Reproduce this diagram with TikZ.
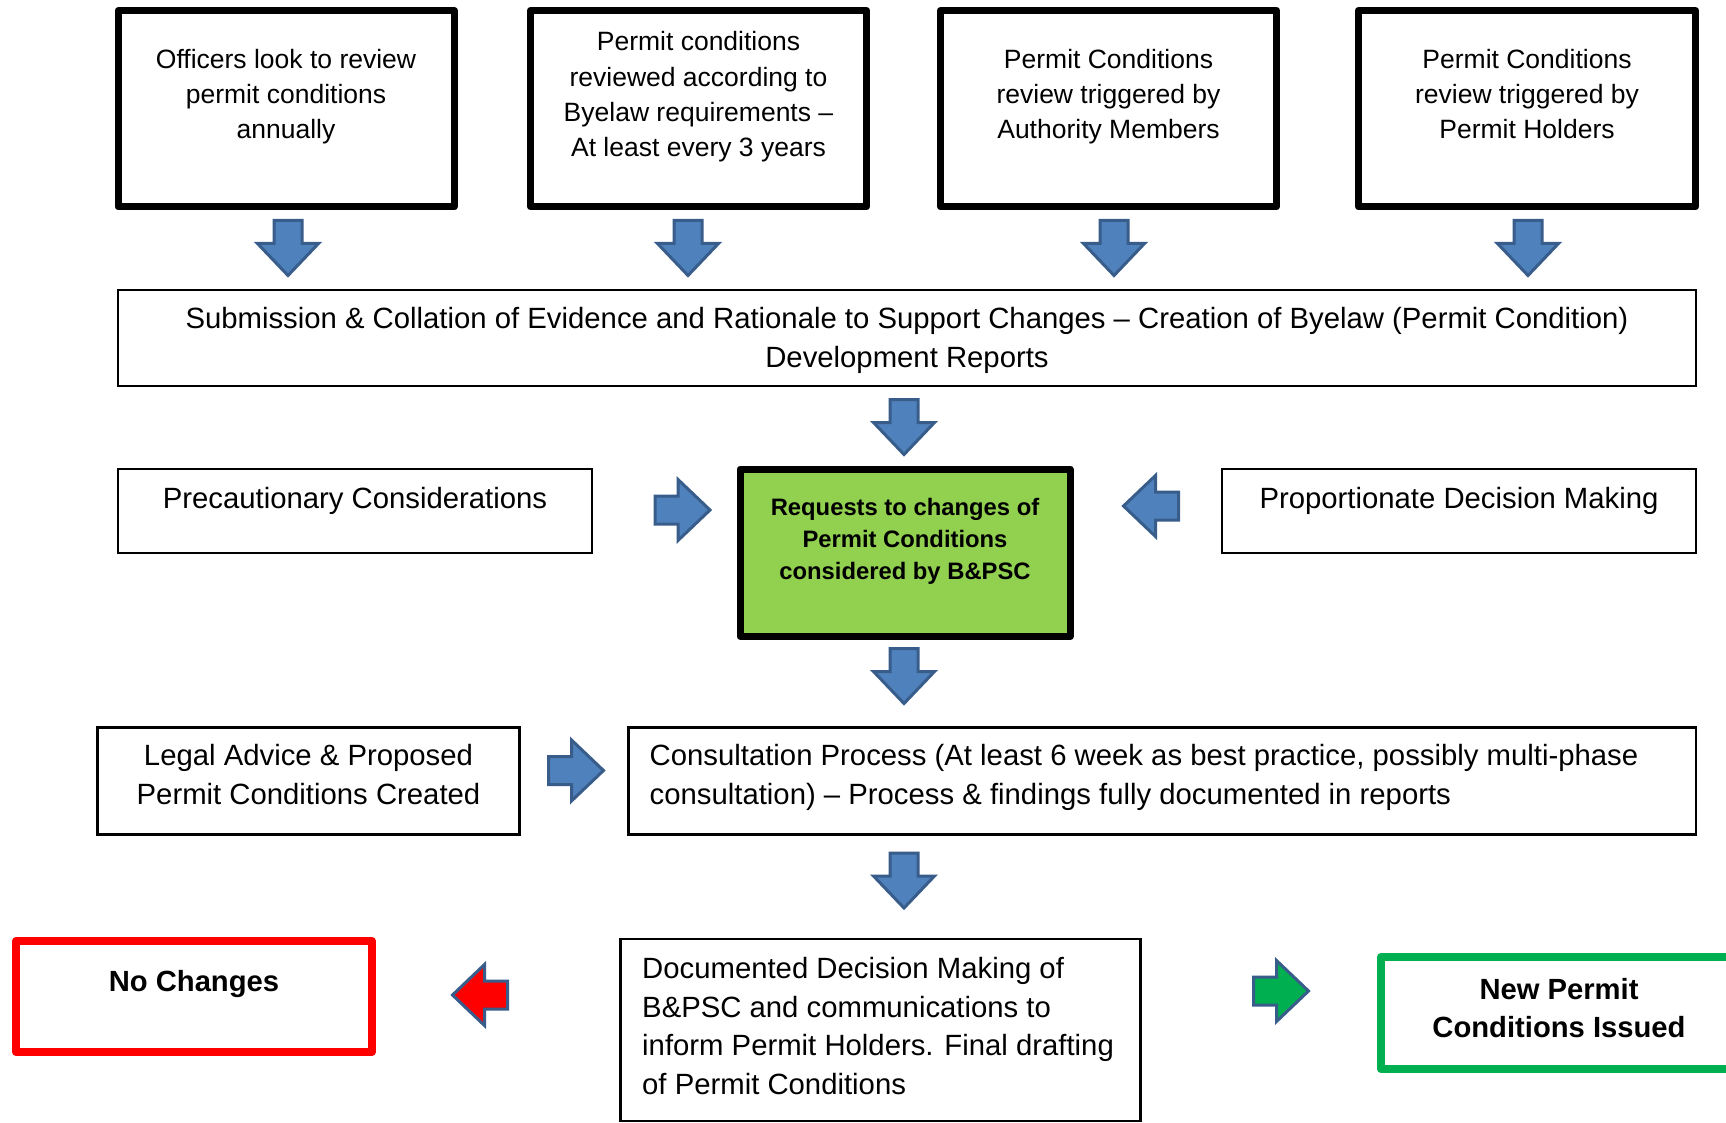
\documentclass[tikz,border=0pt]{standalone}
\usepackage{fontspec}
\setmainfont{Liberation Sans}
\usetikzlibrary{calc}
\definecolor{abfill}{HTML}{4F81BD}
\definecolor{abdraw}{HTML}{385D8A}
\definecolor{gfill}{HTML}{92D050}
\definecolor{nred}{HTML}{FF0000}
\definecolor{ngreen}{HTML}{00B050}
\tikzset{
  thickbox/.style={draw=black, line width=7pt, line join=round, rectangle, inner sep=0pt, outer sep=0pt},
  thinbox/.style={draw=black, line width=2.5pt, rectangle, inner sep=0pt, outer sep=0pt},
  txtA/.style={align=center, inner sep=0pt, font=\fontsize{26.5}{35.2}\selectfont},
  txtB/.style={align=center, inner sep=0pt, font=\fontsize{29.3}{39}\selectfont},
  txtL/.style={align=left, inner sep=0pt, anchor=west, font=\fontsize{29.3}{38.8}\selectfont},
  txtG/.style={align=center, inner sep=0pt, font=\bfseries\fontsize{23.8}{31.7}\selectfont},
  txtN/.style={align=center, inner sep=0pt, font=\bfseries\fontsize{29.2}{38.5}\selectfont},
  blkarrow/.style={draw=abdraw, line width=3pt, line join=miter, fill=#1},
  blkarrow/.default=abfill
}
\newcommand\blkarr[4]{%
  \begin{scope}[shift={(#1,#2)}, rotate=#3]
    \draw[blkarrow=#4] (-27.5,-14) -- (-4.5,-14) -- (-4.5,-30.5) -- (27.5,0)
      -- (-4.5,30.5) -- (-4.5,14) -- (-27.5,14) -- cycle;
  \end{scope}}
\begin{document}
\begin{tikzpicture}[x=1pt, y=-1pt]
\useasboundingbox (0,0) rectangle (1726,1123);
\clip (0,0) rectangle (1726,1123);
\fill[white] (0,0) rectangle (1726,1123);

% top row
\node[thickbox, minimum width=336pt, minimum height=196.5pt] (b1) at (286,108.75) {};
\node[thickbox, minimum width=336pt, minimum height=196.5pt] (b2) at (698.5,108.75) {};
\node[thickbox, minimum width=336pt, minimum height=196.5pt] (b3) at (1108.5,108.75) {};
\node[thickbox, minimum width=337pt, minimum height=196.5pt] (b4) at (1527,108.75) {};
\node[txtA] (t1) at (286,96.9) {Officers look to review\\permit conditions\\annually};
\node[txtA] (t2) at (698.5,96.9) {Permit conditions\\reviewed according to\\Byelaw requirements –\\At least every 3 years};
\node[txtA] (t3) at (1108.5,96.9) {Permit Conditions\\review triggered by\\Authority Members};
\node[txtA] (t4) at (1527,94) {Permit Conditions\\review triggered by\\Permit Holders};

\blkarr{288}{248}{-90}{abfill}
\blkarr{688}{248}{-90}{abfill}
\blkarr{1114}{248}{-90}{abfill}
\blkarr{1528}{248}{-90}{abfill}

% wide box
\node[thinbox, minimum width=1578pt, minimum height=96pt] (w) at (907,338) {};
\node[txtB] (wt) at (907,340) {Submission \& Collation of Evidence and Rationale to Support Changes – Creation of Byelaw (Permit Condition)\\Development Reports};

\blkarr{904}{427}{-90}{abfill}

% middle row
\node[thinbox, minimum width=474pt, minimum height=84pt] (pc) at (355,511) {};
\node[txtB] (pct) at (355,501.3) {Precautionary Considerations};
\node[thickbox, fill=gfill, minimum width=330pt, minimum height=167.5pt] (g) at (905,552.75) {};
\node[txtG] (gt) at (905,541.3) {Requests to changes of\\Permit Conditions\\considered by B\&PSC};
\node[thinbox, minimum width=474pt, minimum height=84pt] (pd) at (1459,511) {};
\node[txtB] (pdt) at (1459,501.3) {Proportionate Decision Making};

\blkarr{682.5}{510}{0}{abfill}
\blkarr{1151}{506}{180}{abfill}
\blkarr{904}{676}{-90}{abfill}

% consultation row
\node[thinbox, minimum width=422pt, minimum height=107pt] (la) at (308.5,781) {};
\node[txtB] (lat) at (308.5,775) {Legal Advice \& Proposed\\Permit Conditions Created};
\node[thinbox, minimum width=1067.4pt, minimum height=107pt] (cp) at (1162.3,781) {};
\node[txtL] (cpt) at (649.5,777.8) {Consultation Process (At least 6 week as best practice, possibly multi-phase\\consultation) – Process \& findings fully documented in reports};

\blkarr{576}{770.5}{0}{abfill}
\blkarr{904}{880.5}{-90}{abfill}

% bottom row
\node[draw=nred, line width=8pt, line join=round, rectangle, inner sep=0pt, minimum width=356pt, minimum height=111pt] (nc) at (194,996.5) {};
\node[txtN] (nct) at (194,984.3) {No Changes};
\node[thinbox, minimum width=519.7pt, minimum height=182pt] (dd) at (880.5,1030) {};
\node[txtL] (ddt) at (642,1026) {Documented Decision Making of\\B\&PSC and communications to\\inform Permit Holders. Final drafting\\of Permit Conditions};
\node[draw=ngreen, line width=8pt, line join=round, rectangle, inner sep=0pt, minimum width=356pt, minimum height=112pt] (np) at (1559,1013) {};
\node[txtN] (npt) at (1559,1008) {New Permit\\Conditions Issued};

\blkarr{480}{995}{180}{nred}
\blkarr{1281}{991}{0}{ngreen}
\end{tikzpicture}
\end{document}
